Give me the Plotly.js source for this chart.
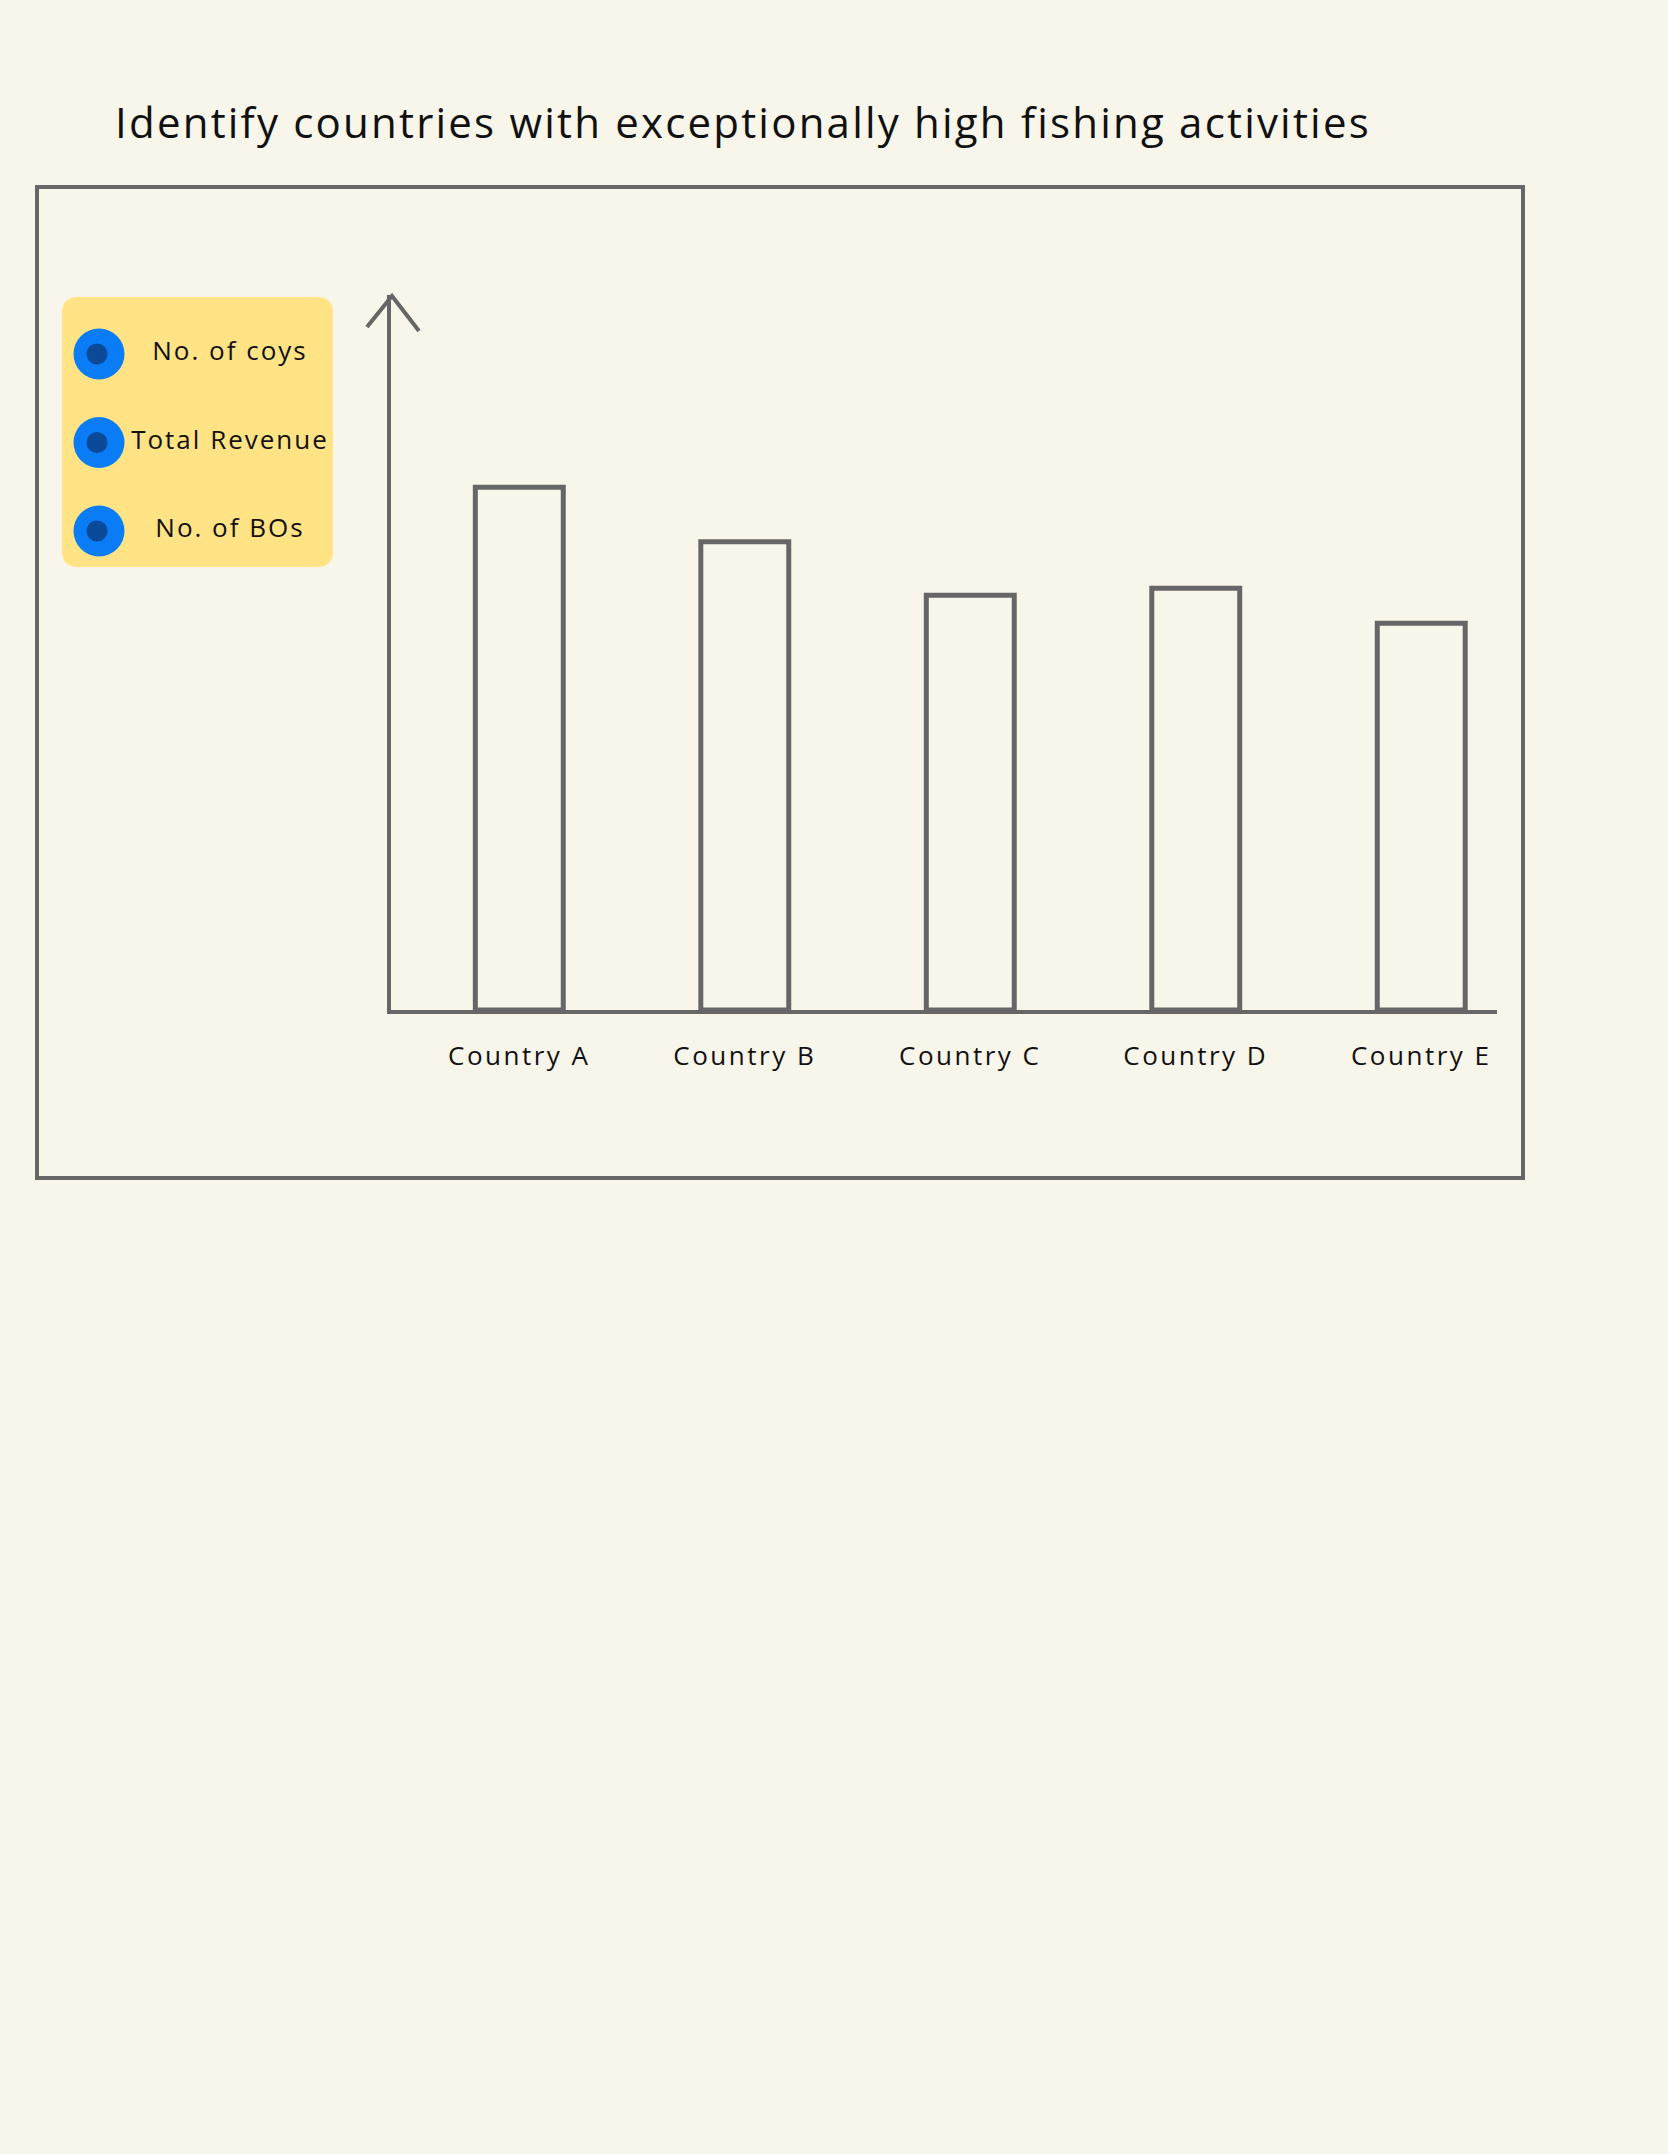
<!DOCTYPE html>
<html>
<head>
<meta charset="utf-8">
<script src="https://cdn.plot.ly/plotly-3.0.1.min.js"></script>
<style>
html,body{margin:0;padding:0;background:#F8F6EA;}
#chart{width:1668px;height:2154px;}
.xtick text{letter-spacing:2.5px;}
.textpoint text{letter-spacing:2px;}
.gtitle{letter-spacing:2.2px;}
</style>
</head>
<body>
<div id="chart"></div>
<script>
// ---- data ----
const chartTitle = 'Identify countries with exceptionally high fishing activities';
const countries = ['Country A', 'Country B', 'Country C', 'Country D', 'Country E'];
const activityValues = [731, 655, 580, 590, 541];
const legendSeries = ['No. of coys', 'Total Revenue', 'No. of BOs'];

// ---- helpers / styles ----
const W = 1668, H = 2154;
const px = x => x / W;
const py = y => 1 - y / H;
const GRAY = '#666666';
const BG = '#F8F6EA';
const FONT = 'Open Sans, Lato, sans-serif';

function roundedRect(x0, y0, x1, y1, r) {
  const p = (x, y) => px(x) + ',' + py(y);
  return 'M' + p(x0 + r, y0) +
    ' L' + p(x1 - r, y0) + ' Q' + p(x1, y0) + ' ' + p(x1, y0 + r) +
    ' L' + p(x1, y1 - r) + ' Q' + p(x1, y1) + ' ' + p(x1 - r, y1) +
    ' L' + p(x0 + r, y1) + ' Q' + p(x0, y1) + ' ' + p(x0, y1 - r) +
    ' L' + p(x0, y0 + r) + ' Q' + p(x0, y0) + ' ' + p(x0 + r, y0) + ' Z';
}
function polyline(pts) {
  return pts.map((q, i) => (i ? 'L' : 'M') + px(q[0]) + ',' + py(q[1])).join(' ');
}

const legendIdx = legendSeries.map((_, i) => i);

const traces = [
  {
    type: 'bar',
    x: countries,
    y: activityValues,
    width: 0.39,
    marker: {color: 'rgba(0,0,0,0)', line: {color: GRAY, width: 5}},
    hoverinfo: 'x+y'
  },
  {
    type: 'scatter', mode: 'markers',
    x: legendSeries.map(() => 37), y: legendIdx,
    xaxis: 'x2', yaxis: 'y2',
    marker: {size: 51, color: '#0A7CF5', line: {width: 0}},
    hoverinfo: 'skip'
  },
  {
    type: 'scatter', mode: 'markers',
    x: legendSeries.map(() => 35), y: legendIdx,
    xaxis: 'x2', yaxis: 'y2',
    marker: {size: 21, color: '#0B4A99', line: {width: 0}},
    hoverinfo: 'skip'
  },
  {
    type: 'scatter', mode: 'text',
    x: legendSeries.map(() => 168), y: legendIdx,
    xaxis: 'x2', yaxis: 'y2',
    text: legendSeries,
    textposition: 'middle center',
    textfont: {family: FONT, size: 26, color: '#111111'},
    hoverinfo: 'skip'
  }
];

const layout = {
  width: W, height: H,
  margin: {l: 0, r: 0, t: 0, b: 0, pad: 0},
  paper_bgcolor: BG,
  plot_bgcolor: 'rgba(0,0,0,0)',
  showlegend: false,
  title: {
    text: chartTitle,
    font: {family: FONT, size: 42, color: '#111111'},
    xref: 'container', x: 743 / W, xanchor: 'center',
    yref: 'container', y: 1 - 123 / H, yanchor: 'middle'
  },
  xaxis: {
    domain: [px(391), px(1497)],
    type: 'category',
    range: [-0.569, 4.336],
    showline: true, linecolor: GRAY, linewidth: 4,
    showgrid: false, zeroline: false, ticks: '',
    tickfont: {family: FONT, size: 26, color: '#111111'},
    ticklabelstandoff: 20,
    fixedrange: true
  },
  yaxis: {
    domain: [py(1010), py(295)],
    range: [0, 1000],
    showline: true, linecolor: GRAY, linewidth: 4,
    showgrid: false, zeroline: false, ticks: '',
    showticklabels: false,
    fixedrange: true
  },
  xaxis2: {
    domain: [px(62), px(333)], range: [0, 271],
    visible: false, anchor: 'y2', fixedrange: true
  },
  yaxis2: {
    domain: [py(567), py(297)], range: [2.407, -0.644],
    visible: false, anchor: 'x2', fixedrange: true
  },
  shapes: [
    {type: 'path', xref: 'paper', yref: 'paper', layer: 'below',
     path: roundedRect(62, 297, 333, 567, 16),
     fillcolor: '#FFE385', line: {width: 0}},
    {type: 'rect', xref: 'paper', yref: 'paper', layer: 'above',
     x0: px(37), x1: px(1523), y0: py(1178), y1: py(187),
     fillcolor: 'rgba(0,0,0,0)', line: {color: GRAY, width: 4}},
    {type: 'path', xref: 'paper', yref: 'paper', layer: 'above',
     path: polyline([[367, 327], [392, 296], [419, 331]]),
     line: {color: GRAY, width: 4}}
  ]
};

Plotly.newPlot('chart', traces, layout, {displayModeBar: false, staticPlot: true});
</script>
</body>
</html>
